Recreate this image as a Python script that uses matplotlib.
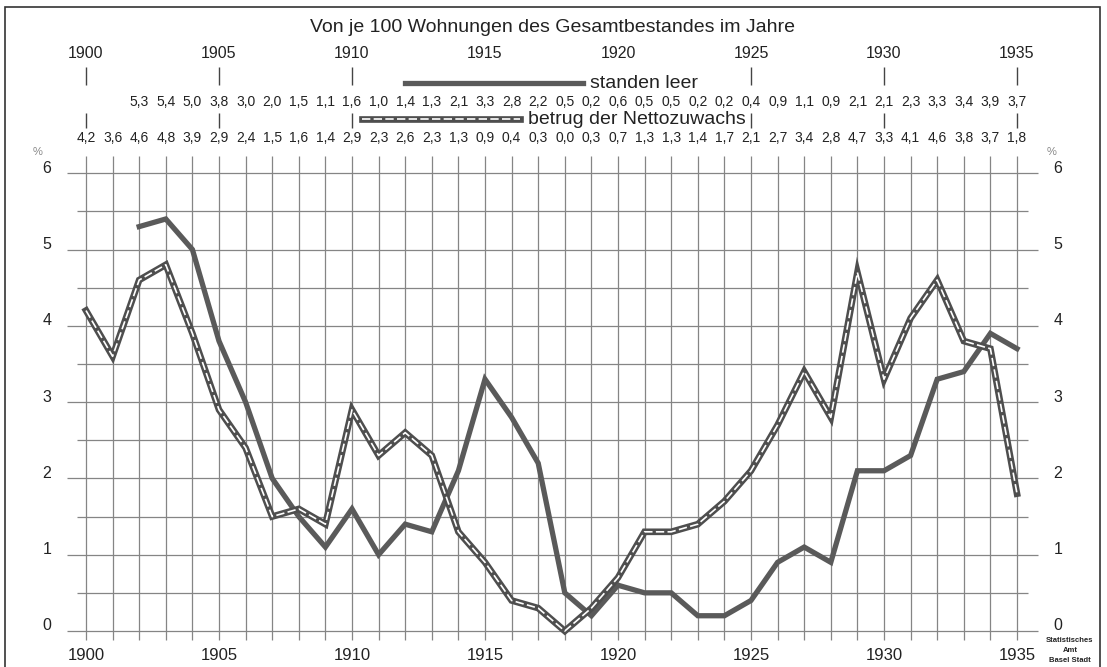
import matplotlib
matplotlib.use("Agg")
import matplotlib.pyplot as plt
import numpy as np

# Daten: Von je 100 Wohnungen des Gesamtbestandes
years_leer = list(range(1902, 1936))
standen_leer = [5.3, 5.4, 5.0, 3.8, 3.0, 2.0, 1.5, 1.1, 1.6, 1.0,
                1.4, 1.3, 2.1, 3.3, 2.8, 2.2, 0.5, 0.2, 0.6, 0.5,
                0.5, 0.2, 0.2, 0.4, 0.9, 1.1, 0.9, 2.1, 2.1, 2.3,
                3.3, 3.4, 3.9, 3.7]

years_netto = list(range(1900, 1936))
nettozuwachs = [4.2, 3.6, 4.6, 4.8, 3.9, 2.9, 2.4, 1.5, 1.6, 1.4,
                2.9, 2.3, 2.6, 2.3, 1.3, 0.9, 0.4, 0.3, 0.0, 0.3,
                0.7, 1.3, 1.3, 1.4, 1.7, 2.1, 2.7, 3.4, 2.8, 4.7,
                3.3, 4.1, 4.6, 3.8, 3.7, 1.8]

year_labels = [1900, 1905, 1910, 1915, 1920, 1925, 1930, 1935]
tick_years = [1900, 1905, 1910, 1925, 1930, 1935]
y_labels = [0, 1, 2, 3, 4, 5, 6]

# Pixel -> Datenkoordinaten (Achse fuellt die ganze Figur)
W, H = 1107, 667
X0, PPY = 86, 26.6      # 1900 bei x=86 px, 26.6 px pro Jahr
Y0, PPU = 631, 76.3     # 0 bei y=631 px, 76.3 px pro Einheit


def px_x(p):
    return 1900 + (p - X0) / PPY


def px_y(p):
    return (Y0 - p) / PPU


def fmt(v):
    return f"{v:.1f}".replace(".", ",")


plt.rcParams['font.family'] = ['Liberation Sans', 'DejaVu Sans']
txt = '#222222'
grid_c = '#858585'
line_c = '#5a5a5a'
dash_c = '#4e4e4e'

fig = plt.figure(figsize=(W / 100, H / 100), dpi=100)
ax = fig.add_axes([0, 0, 1, 1])
ax.set_xlim(px_x(0), px_x(W))
ax.set_ylim(px_y(H), px_y(0))
ax.axis('off')

# Rahmen
fig.add_artist(plt.Rectangle((5 / W, -0.01), 1095 / W, (H - 7) / H + 0.01,
                             transform=fig.transFigure, fill=False,
                             edgecolor='#333333', linewidth=1.2))

# Gitter
ax.hlines(y_labels, px_x(67), px_x(1038), color=grid_c, linewidth=0.9)
ax.hlines(np.arange(0.5, 6, 1.0), px_x(77), px_x(1028), color=grid_c, linewidth=0.9)
ax.vlines(years_netto, px_y(640), px_y(156), color=grid_c, linewidth=0.9)

# Linien
ax.plot(years_leer, standen_leer, color=line_c, linewidth=3.8,
        solid_joinstyle='miter', zorder=3)
ax.plot(years_netto, nettozuwachs, color=dash_c, linewidth=4.8,
        solid_joinstyle='miter', zorder=4)
ax.plot(years_netto, nettozuwachs, color='white', linewidth=1.2,
        linestyle=(0, (5, 2)), zorder=5)

# Kopf
ax.text(px_x(553), px_y(28), 'Von je 100 Wohnungen des Gesamtbestandes im Jahre',
        ha='center', va='center', fontsize=14, color=txt)
for yr in year_labels:
    ax.text(yr, px_y(53), str(yr), ha='center', va='center', fontsize=11.5, color=txt)
    ax.text(yr, px_y(655), str(yr), ha='center', va='center', fontsize=12, color=txt)
ax.vlines(tick_years, px_y(85), px_y(67), color='#444444', linewidth=1.0)
ax.vlines(tick_years, px_y(128), px_y(113), color='#444444', linewidth=1.0)

# Legende
ax.plot([px_x(405), px_x(583)], [px_y(83)] * 2, color=line_c, linewidth=3.8)
ax.text(px_x(590), px_y(83), 'standen leer', ha='left', va='center',
        fontsize=14, color=txt)
ax.plot([px_x(362), px_x(520)], [px_y(119)] * 2, color=dash_c, linewidth=4.8)
ax.plot([px_x(362), px_x(520)], [px_y(119)] * 2, color='white', linewidth=1.2,
        linestyle=(0, (5, 2)))
ax.text(px_x(528), px_y(119), 'betrug der Nettozuwachs', ha='left', va='center',
        fontsize=14, color=txt)

# Wertezeilen
for yr, v in zip(years_leer, standen_leer):
    ax.text(yr, px_y(102), fmt(v), ha='center', va='center', fontsize=10, color=txt)
for yr, v in zip(years_netto, nettozuwachs):
    ax.text(yr, px_y(138), fmt(v), ha='center', va='center', fontsize=10, color=txt)

# y-Achsenbeschriftung
for v in y_labels:
    ax.text(px_x(47), v + 5 / PPU, str(v), ha='center', va='center', fontsize=11.5, color=txt)
    ax.text(px_x(1058), v + 5 / PPU, str(v), ha='center', va='center', fontsize=11.5, color=txt)
ax.text(px_x(38), px_y(152), '%', ha='center', va='center', fontsize=8, color='#888888')
ax.text(px_x(1052), px_y(152), '%', ha='center', va='center', fontsize=8, color='#888888')

# Quelle
ax.text(px_x(1070), px_y(641), 'Statistisches', ha='center', va='center',
        fontsize=5.5, color=txt, weight='bold')
ax.text(px_x(1070), px_y(651), 'Amt', ha='center', va='center',
        fontsize=5.5, color=txt, weight='bold')
ax.text(px_x(1070), px_y(661), 'Basel Stadt', ha='center', va='center',
        fontsize=5.5, color=txt, weight='bold')

fig.savefig('out.png', dpi=100)
